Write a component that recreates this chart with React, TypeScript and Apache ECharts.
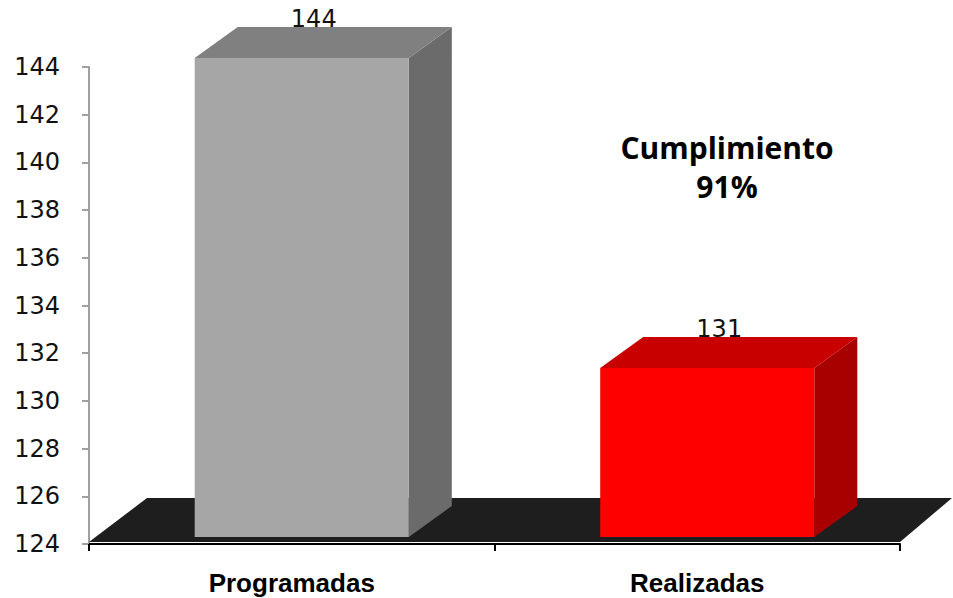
import React, { useEffect, useRef } from "react";
import * as echarts from "echarts";

const categories = ["Programadas", "Realizadas"];
const values = [144, 131];
const yMin = 124;
const yMax = 144;
const yStep = 2;
const noteLines = ["Cumplimiento", "91%"];

const frontColors = ["#a6a6a6", "#ff0000"];
const topColors = ["#808080", "#c80000"];
const sideColors = ["#6b6b6b", "#a80000"];

export default function App() {
  const ref = useRef<HTMLDivElement>(null);
  useEffect(() => {
    if (!ref.current) return;
    const chart = echarts.init(ref.current, undefined, { renderer: "svg" });
    const DX = 43;
    const DY = 31;
    chart.setOption({
      animation: false,
      backgroundColor: "#ffffff",
      grid: { left: 89, right: 53, top: 67, bottom: 54, containLabel: false },
      xAxis: {
        type: "category",
        data: categories,
        axisLine: { show: true, lineStyle: { color: "#000000", width: 2 } },
        axisTick: { show: true, length: 7, lineStyle: { color: "#000000", width: 2 } },
        axisLabel: {
          fontFamily: "Liberation Sans, Arial, sans-serif",
          fontWeight: "bold",
          fontSize: 26,
          color: "#000000",
          margin: 26,
        },
        splitLine: { show: false },
      },
      yAxis: {
        type: "value",
        min: yMin,
        max: yMax,
        interval: yStep,
        axisLine: { show: true, lineStyle: { color: "#a0a0a0", width: 2 } },
        axisTick: { show: true, length: 7, lineStyle: { color: "#a0a0a0", width: 2 } },
        axisLabel: {
          fontFamily: "DejaVu Sans, Verdana, sans-serif",
          fontSize: 24,
          color: "#111111",
          margin: 29,
        },
        splitLine: { show: false },
      },
      graphic: [
        {
          type: "text",
          left: 727 - 120,
          top: 128,
          style: {
            text: noteLines.join("\n"),
            x: 120,
            width: 240,
            textAlign: "center",
            fontFamily: "Open Sans, sans-serif",
            fontWeight: "bold",
            fontSize: 30,
            lineHeight: 39,
            fill: "#000000",
          },
        },
      ],
      series: [
        {
          type: "custom",
          z: 1,
          data: [[0, yMin]],
          renderItem: (params: any, api: any) => {
            const cs = params.coordSys;
            const yF = cs.y + cs.height - 2;
            const yB = yF - 44;
            const xL = cs.x;
            const xR = cs.x + cs.width;
            return {
              type: "polygon",
              shape: {
                points: [
                  [xL, yF],
                  [xR, yF],
                  [xR + 52, yB],
                  [xL + 58, yB],
                ],
              },
              style: { fill: "#1e1e1e" },
            };
          },
        },
        {
          type: "custom",
          z: 2,
          data: values.map((v, i) => [i, v]),
          renderItem: (params: any, api: any) => {
            const idx = api.value(0);
            const val = api.value(1);
            const top = api.coord([idx, val]);
            const base = api.coord([idx, yMin]);
            const bw = api.size([1, 0])[0] * 0.528;
            const cx = top[0] + 10;
            const x0 = cx - bw / 2;
            const x1 = cx + bw / 2;
            const yt = top[1] - 9;
            const yb = base[1] - 7;
            return {
              type: "group",
              children: [
                {
                  type: "polygon",
                  shape: { points: [[x1, yt], [x1 + DX, yt - DY], [x1 + DX, yb - DY], [x1, yb]] },
                  style: { fill: sideColors[idx] },
                },
                {
                  type: "polygon",
                  shape: { points: [[x0, yt], [x1, yt], [x1 + DX, yt - DY], [x0 + DX, yt - DY]] },
                  style: { fill: topColors[idx] },
                },
                {
                  type: "rect",
                  shape: { x: x0, y: yt, width: bw, height: yb - yt },
                  style: { fill: frontColors[idx] },
                },
                {
                  type: "text",
                  style: {
                    text: String(val),
                    x: cx + 12,
                    y: yt - DY + 4,
                    textAlign: "center",
                    textVerticalAlign: "bottom",
                    fontFamily: "DejaVu Sans, Verdana, sans-serif",
                    fontSize: 24,
                    fill: "#111111",
                  },
                },
              ],
            };
          },
        },
      ],
    });
    return () => chart.dispose();
  }, []);
  return (
    <div
      ref={ref}
      style={{ position: "fixed", left: 0, top: 0, width: 953, height: 598 }}
    />
  );
}
